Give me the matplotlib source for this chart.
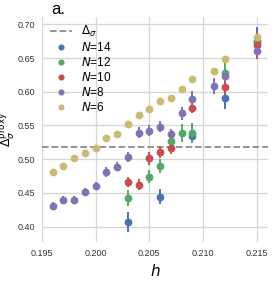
import matplotlib
matplotlib.use('Agg')
import matplotlib.pyplot as plt
from matplotlib.lines import Line2D

# data
delta_sigma = 0.5181

h14 = [0.203, 0.206, 0.209, 0.212, 0.215]
d14 = [0.407, 0.444, 0.535, 0.591, 0.676]
e14 = [0.015, 0.011, 0.006, 0.016, 0.020]

h12 = [0.203, 0.205, 0.206, 0.207, 0.208, 0.209, 0.212, 0.215]
d12 = [0.442, 0.474, 0.490, 0.527, 0.539, 0.539, 0.628, 0.674]
e12 = [0.012, 0.010, 0.010, 0.008, 0.013, 0.015, 0.017, 0.010]

h10 = [0.203, 0.204, 0.205, 0.206, 0.207, 0.209, 0.212, 0.215]
d10 = [0.466, 0.462, 0.501, 0.510, 0.516, 0.576, 0.607, 0.669]
e10 = [0.008, 0.008, 0.009, 0.009, 0.008, 0.008, 0.010, 0.020]

h8 = [0.196, 0.197, 0.198, 0.199, 0.200, 0.201, 0.202, 0.203, 0.204,
      0.205, 0.206, 0.207, 0.208, 0.209, 0.211, 0.212, 0.215]
d8 = [0.430, 0.440, 0.440, 0.451, 0.460, 0.481, 0.489, 0.503, 0.539,
      0.542, 0.548, 0.538, 0.568, 0.589, 0.608, 0.624, 0.661]
e8 = [0.006, 0.006, 0.006, 0.006, 0.006, 0.007, 0.007, 0.007, 0.008,
      0.008, 0.008, 0.007, 0.010, 0.012, 0.012, 0.010, 0.008]

h6 = [0.196, 0.197, 0.198, 0.199, 0.200, 0.201, 0.202, 0.203, 0.204,
      0.205, 0.206, 0.207, 0.208, 0.209, 0.211, 0.212, 0.215]
d6 = [0.481, 0.490, 0.502, 0.509, 0.517, 0.532, 0.537, 0.552, 0.565,
      0.575, 0.587, 0.591, 0.604, 0.619, 0.631, 0.648, 0.681]

series = [
    (h14, d14, e14, '#4C72B0', 14),
    (h12, d12, e12, '#55A868', 12),
    (h10, d10, e10, '#C44E52', 10),
    (h8, d8, e8, '#8172B2', 8),
    (h6, d6, None, '#CCB974', 6),
]

plt.rcParams['font.family'] = ['Liberation Sans', 'DejaVu Sans']
plt.rcParams['mathtext.fontset'] = 'dejavusans'

fig = plt.figure(figsize=(2.73, 2.83), dpi=100)
ax = fig.add_axes([42 / 273, 1 - 242 / 283, 226 / 273, 225 / 283])
ax.set_facecolor('white')
ax.grid(True, color='#d6d6d6', lw=0.9)
ax.set_axisbelow(True)
for s in ax.spines.values():
    s.set_visible(False)

ax.axhline(delta_sigma, color='#8c8c8c', ls='--', lw=1.3)
handles = [Line2D([], [], color='#8c8c8c', ls='--', lw=1.3)]
labels = [r'$\Delta_\sigma$']
for h, d, e, c, n in series:
    ax.errorbar(h, d, yerr=e, fmt='o', color=c, ms=4.6, elinewidth=1.4,
                capsize=0)
    handles.append(Line2D([], [], ls='none', marker='o', color=c, ms=3.4))
    labels.append('$N$=' + str(n))

ax.set_xlim(0.195, 0.21605)
ax.set_ylim(0.377, 0.711)
ax.set_xticks([0.195, 0.200, 0.205, 0.210, 0.215])
ax.set_yticks([0.40, 0.45, 0.50, 0.55, 0.60, 0.65, 0.70])
ax.xaxis.set_major_formatter(plt.FormatStrFormatter('%.3f'))
ax.yaxis.set_major_formatter(plt.FormatStrFormatter('%.2f'))
ax.tick_params(length=0, labelsize=6.5, colors='#333333', pad=5)
ax.set_xlabel('$h$', fontsize=11, labelpad=4)
ax.set_ylabel(r'$\Delta_\sigma^{\rm proxy}$', fontsize=9)
ax.yaxis.set_label_coords(-0.112, 0.5)
ax.set_title('a.', loc='left', fontsize=12, x=0.04, pad=1)

ax.legend(handles, labels, loc='upper left', frameon=False, fontsize=8.5,
          handlelength=1.9, labelspacing=0.17, borderpad=0,
          borderaxespad=0, handletextpad=0.75,
          bbox_to_anchor=(0.035, 0.968))

fig.savefig('out.png', dpi=100)
plt.close('all')
